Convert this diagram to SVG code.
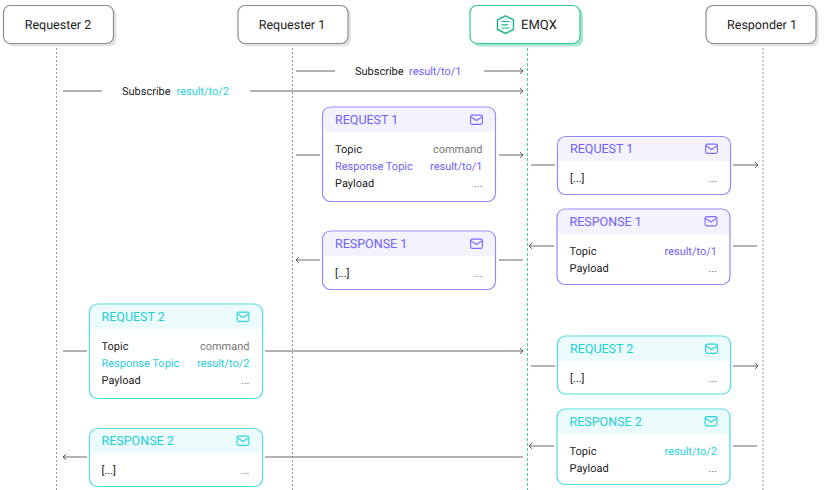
<svg xmlns="http://www.w3.org/2000/svg" width="824" height="490" viewBox="0 0 824 490">
<defs>
<marker id="arr" markerWidth="6" markerHeight="8" refX="5" refY="4" orient="auto" markerUnits="userSpaceOnUse"><path d="M2 1.200L5 4L2 6.800" fill="none" stroke="#555" stroke-width="1"/></marker>
<g id="mail"><rect x="0.600" y="0.600" width="11.800" height="9.300" rx="1.600" fill="none" stroke="currentColor" stroke-width="1.100"/><path d="M0.800 2.200L6.500 6L12.200 2.200" fill="none" stroke="currentColor" stroke-width="1.100"/></g>
</defs>
<style>
text{font-family:Roboto,"Liberation Sans",sans-serif;font-size:11px;fill:#222;text-rendering:geometricPrecision}
.hd{font-size:12.500px;text-anchor:middle}
.box{fill:#fff;stroke:#8c8c8c;stroke-width:1.200}
.sh{fill:#e3e3e3}
.life{stroke:#9a9a9a;stroke-width:1;stroke-dasharray:2 2;fill:none}
.lm{stroke:#3fcf9e;stroke-width:1;stroke-dasharray:3 2;fill:none}
.c{stroke:#666;stroke-width:1;fill:none}
.a{marker-end:url(#arr)}
.r{text-anchor:end}
.g{fill:#777}
.t{font-size:12.500px}
.pu{color:#7b6cff}.pu .t,.pu .v{fill:#6f62f5}.pu .m{fill:#fff;stroke:#9488ff;stroke-width:1.200}.pu .b{fill:#f4f2ff}
.cy{color:#2bd4dc}.cy .t,.cy .v{fill:#1fcfd8}.cy .m{fill:#fff;stroke:#4edde2;stroke-width:1.200}.cy .b{fill:#ecfbfc}
</style>
<g id="connectors">
<path class="life" d="M56.500 48V490M292.500 48V490M763 48V490"/>
<path class="lm" d="M527.500 48V490"/>
<path class="c" d="M296 71H335M63 91H102M296 155H320M531 165H555M733 246H757M499 260H523M63 351H87M531 366H555M733 446H757M265 457H523"/>
<path class="c a" d="M484 71H523"/>
<path class="c a" d="M250 91H523"/>
<path class="c a" d="M499 155H523"/>
<path class="c a" d="M733 165H758"/>
<path class="c a" d="M554 246H529"/>
<path class="c a" d="M320 260H296"/>
<path class="c a" d="M265 351H523"/>
<path class="c a" d="M733 366H758"/>
<path class="c a" d="M554 446H529"/>
<path class="c a" d="M87 457H63"/>
</g>
<g id="requester2"><rect class="sh" x="6.500" y="8.500" width="110" height="38" rx="7"/><rect class="box" x="3.500" y="5.500" width="110" height="38" rx="7"/><text class="hd" x="58" y="29">Requester 2</text></g>
<g id="requester1"><rect class="sh" x="241" y="8.500" width="110" height="38" rx="7"/><rect class="box" x="238" y="5.500" width="110" height="38" rx="7"/><text class="hd" x="292" y="29">Requester 1</text></g>
<g id="emqx"><rect x="473" y="8.500" width="110" height="38" rx="7" fill="#a5e8cf"/><rect x="470" y="5.500" width="110" height="38" rx="7" fill="#fff" stroke="#34c794" stroke-width="1.200"/><path d="M505.500 15.800L513.500 20V29.500L505.500 33.500L497.500 29.500V20Z" fill="none" stroke="#19b987" stroke-width="1.400"/><path d="M501.500 21.500H509.500M501.500 24.800H508M501.500 28H509.500" fill="none" stroke="#19b987" stroke-width="1.200"/><text class="hd" x="521" y="29" style="text-anchor:start;font-size:13px">EMQX</text></g>
<g id="responder1"><rect class="sh" x="709" y="8.500" width="110" height="38" rx="7"/><rect class="box" x="706" y="5.500" width="110" height="38" rx="7"/><text class="hd" x="762" y="29">Responder 1</text></g>
<g id="sub1"><text x="355" y="75">Subscribe</text><text x="409" y="75" style="fill:#6f62f5">result/to/1</text></g>
<g id="sub2"><text x="122" y="95">Subscribe</text><text x="176.500" y="95" style="fill:#1fcfd8">result/to/2</text></g>

<g id="request1" class="pu"><rect class="m" x="322.500" y="107" width="173" height="94.500" rx="8"/><path class="b" d="M323.500 132V115a7 7 0 0 1 7-7H487.500a7 7 0 0 1 7 7V132Z"/><text class="t" x="335" y="124">REQUEST 1</text><use href="#mail" x="470" y="114.500"/><text x="335" y="152.500">Topic</text><text class="r g" x="482.500" y="152.500">command</text><text class="v" x="335" y="169.500">Response Topic</text><text class="v r" x="482.500" y="169.500">result/to/1</text><text x="335" y="186.500">Payload</text><text class="r g" x="482.500" y="186.500">...</text></g>
<g id="response1a" class="pu"><rect class="m" x="322.500" y="231" width="173" height="58.500" rx="8"/><path class="b" d="M323.500 256V239a7 7 0 0 1 7-7H487.500a7 7 0 0 1 7 7V256Z"/><text class="t" x="335" y="248">RESPONSE 1</text><use href="#mail" x="470" y="238.500"/><text x="335" y="276.500">[...]</text><text class="r g" x="482.500" y="276.500">...</text></g>
<g id="request1b" class="pu"><rect class="m" x="557.500" y="136.500" width="173" height="58" rx="8"/><path class="b" d="M558.500 161.500V144.500a7 7 0 0 1 7-7H722.500a7 7 0 0 1 7 7V161.500Z"/><text class="t" x="570" y="153">REQUEST 1</text><use href="#mail" x="705" y="143.500"/><text x="570" y="181.500">[...]</text><text class="r g" x="717.500" y="181.500">...</text></g>
<g id="response1b" class="pu"><rect class="m" x="557" y="209" width="173" height="75.500" rx="8"/><path class="b" d="M558 234V217a7 7 0 0 1 7-7H722a7 7 0 0 1 7 7V234Z"/><text class="t" x="569.500" y="226">RESPONSE 1</text><use href="#mail" x="704.500" y="216"/><text x="569.500" y="254.500">Topic</text><text class="v r" x="717" y="254.500">result/to/1</text><text x="569.500" y="271.500">Payload</text><text class="r g" x="717" y="271.500">...</text></g>

<g id="request2" class="cy"><rect class="m" x="89.500" y="304" width="173" height="94.500" rx="8"/><path class="b" d="M90.500 329V312a7 7 0 0 1 7-7H254.500a7 7 0 0 1 7 7V329Z"/><text class="t" x="101.500" y="321">REQUEST 2</text><use href="#mail" x="236.500" y="311.500"/><text x="101.500" y="349.500">Topic</text><text class="r g" x="249.500" y="349.500">command</text><text class="v" x="101.500" y="366.500">Response Topic</text><text class="v r" x="249.500" y="366.500">result/to/2</text><text x="101.500" y="383.500">Payload</text><text class="r g" x="249.500" y="383.500">...</text></g>
<g id="response2a" class="cy"><rect class="m" x="89.500" y="428.500" width="173" height="58" rx="8"/><path class="b" d="M90.500 453V436.500a7 7 0 0 1 7-7H254.500a7 7 0 0 1 7 7V453Z"/><text class="t" x="101.500" y="445">RESPONSE 2</text><use href="#mail" x="236.500" y="435.500"/><text x="101.500" y="473.500">[...]</text><text class="r g" x="249.500" y="473.500">...</text></g>
<g id="request2b" class="cy"><rect class="m" x="557.500" y="336" width="173" height="58" rx="8"/><path class="b" d="M558.500 361V344a7 7 0 0 1 7-7H722.500a7 7 0 0 1 7 7V361Z"/><text class="t" x="570" y="353">REQUEST 2</text><use href="#mail" x="705" y="343.500"/><text x="570" y="381.500">[...]</text><text class="r g" x="717.500" y="381.500">...</text></g>
<g id="response2b" class="cy"><rect class="m" x="557" y="409" width="173" height="75.500" rx="8"/><path class="b" d="M558 434V417a7 7 0 0 1 7-7H722a7 7 0 0 1 7 7V434Z"/><text class="t" x="569.500" y="426">RESPONSE 2</text><use href="#mail" x="704.500" y="416"/><text x="569.500" y="454.500">Topic</text><text class="v r" x="717" y="454.500">result/to/2</text><text x="569.500" y="471.500">Payload</text><text class="r g" x="717" y="471.500">...</text></g>
</svg>
